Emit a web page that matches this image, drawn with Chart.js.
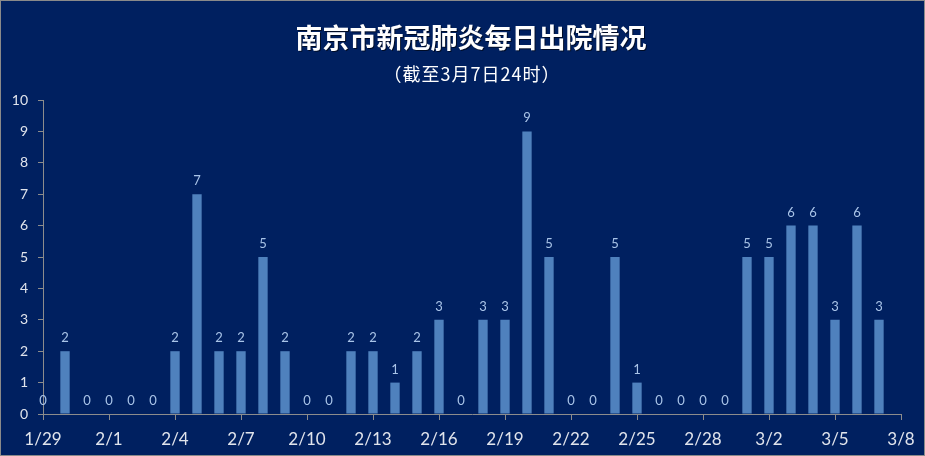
<!DOCTYPE html>
<html>
<head>
<meta charset="utf-8">
<title>南京市新冠肺炎每日出院情况</title>
<script src="https://cdn.jsdelivr.net/npm/chart.js@4"></script>
<style>
    html, body { margin: 0; padding: 0; background: #002060; }
    #chart { display: block; }
</style>
</head>
<body>
<canvas id="chart" width="925" height="456"></canvas>
<script>
// Daily discharges, 1/29 .. 3/8 (3/8 has no data yet)
const dates = [
    '1/29', '1/30', '1/31', '2/1', '2/2', '2/3', '2/4', '2/5', '2/6', '2/7',
    '2/8', '2/9', '2/10', '2/11', '2/12', '2/13', '2/14', '2/15', '2/16', '2/17',
    '2/18', '2/19', '2/20', '2/21', '2/22', '2/23', '2/24', '2/25', '2/26', '2/27',
    '2/28', '2/29', '3/1', '3/2', '3/3', '3/4', '3/5', '3/6', '3/7', '3/8'
];
const discharged = [
    0, 2, 0, 0, 0, 0, 2, 7, 2, 2,
    5, 2, 0, 0, 2, 2, 1, 2, 3, 0,
    3, 3, 9, 5, 0, 0, 5, 1, 0, 0,
    0, 0, 5, 5, 6, 6, 3, 6, 3, null
];
const yTicks = [0, 1, 2, 3, 4, 5, 6, 7, 8, 9, 10];

const chartTitle = '南京市新冠肺炎每日出院情况';
const chartSubtitle = '（截至3月7日24时）';

const axisColor = '#8c8c8c';
const tickColor = '#e0e4ec';

// background, border and the two title lines
const frame = {
    id: 'frame',
    beforeDraw(chart) {
        const ctx = chart.ctx;
        ctx.save();
        ctx.fillStyle = '#002060';
        ctx.fillRect(0, 0, chart.width, chart.height);
        ctx.strokeStyle = '#8a8a8a';
        ctx.lineWidth = 2;
        ctx.strokeRect(0, 0, chart.width, chart.height);

        ctx.textAlign = 'center';
        ctx.textBaseline = 'middle';
        ctx.fillStyle = '#ffffff';
        ctx.shadowColor = 'rgba(0,0,0,0.6)';
        ctx.shadowOffsetX = 1;
        ctx.shadowOffsetY = 1;
        ctx.font = 'bold 27px "Noto Sans CJK SC"';
        ctx.fillText(chartTitle, 471, 38);
        ctx.shadowColor = 'transparent';
        ctx.font = '18px "Noto Sans CJK SC"';
        ctx.letterSpacing = '1px';
        ctx.fillText(chartSubtitle, 472, 74);
        ctx.restore();
    }
};

// value labels above each bar
const valueLabels = {
    id: 'valueLabels',
    afterDatasetsDraw(chart) {
        const ctx = chart.ctx;
        const meta = chart.getDatasetMeta(0);
        ctx.save();
        ctx.fillStyle = '#a9c4e8';
        ctx.font = '13px Lato';
        ctx.textAlign = 'center';
        ctx.textBaseline = 'alphabetic';
        meta.data.forEach((bar, i) => {
            const v = discharged[i];
            if (v === null || v === undefined) return;
            ctx.fillText(String(v), bar.x, bar.y - 9);
        });
        ctx.restore();
    }
};

new Chart(document.getElementById('chart'), {
    type: 'bar',
    data: {
        labels: dates,
        datasets: [{
            label: '出院人数',
            data: discharged,
            backgroundColor: '#4f81bd',
            borderWidth: 0,
            categoryPercentage: 0.5,
            barPercentage: 0.85
        }]
    },
    options: {
        responsive: false,
        animation: false,
        layout: {
            padding: { top: 100, left: 12, right: 24, bottom: 0 }
        },
        plugins: {
            legend: { display: false },
            title: { display: false },
            tooltip: { enabled: false }
        },
        scales: {
            x: {
                offset: false,
                grid: {
                    offset: false,
                    drawOnChartArea: false,
                    drawTicks: true,
                    tickLength: 6,
                    color: axisColor
                },
                border: { color: axisColor, width: 1 },
                ticks: {
                    autoSkip: false,
                    maxRotation: 0,
                    padding: 9,
                    color: tickColor,
                    font: { family: 'Lato', size: 17 },
                    callback: function(value, index) {
                        return index % 3 === 0 ? dates[index] : null;
                    }
                },
                afterFit(scale) { scale.height = 42; }
            },
            y: {
                min: 0,
                max: 10,
                grid: {
                    drawOnChartArea: false,
                    drawTicks: true,
                    tickLength: 5,
                    color: axisColor
                },
                border: { color: axisColor, width: 1 },
                afterBuildTicks(scale) {
                    scale.ticks = yTicks.map(v => ({ value: v }));
                },
                ticks: {
                    padding: 10,
                    color: tickColor,
                    font: { family: 'Lato', size: 14 }
                },
                afterFit(scale) { scale.width = 31; }
            }
        }
    },
    plugins: [frame, valueLabels]
});
</script>
</body>
</html>
